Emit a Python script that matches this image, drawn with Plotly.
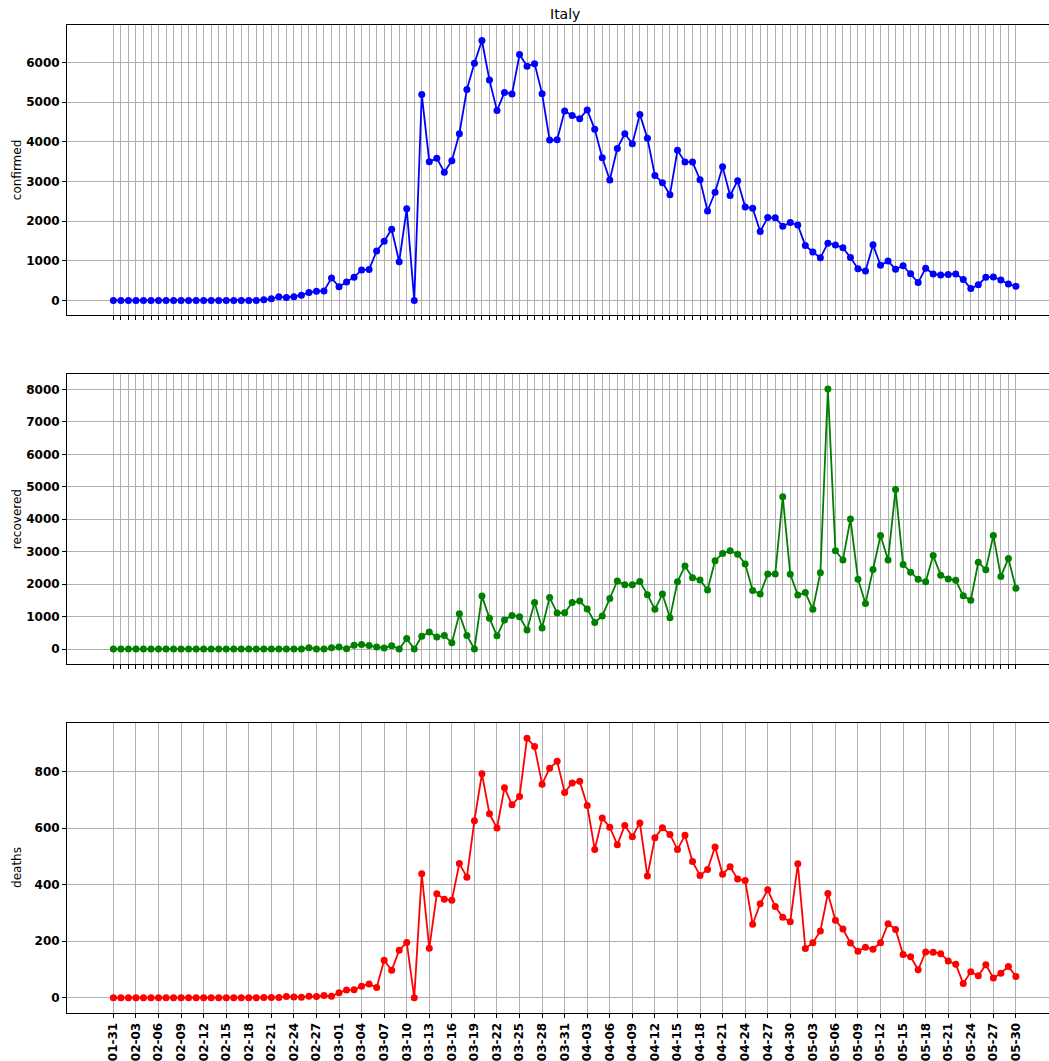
import pandas as pd
import plotly.graph_objects as go
from plotly.subplots import make_subplots

country = "Italy"
dates = pd.date_range("2020-01-31", "2020-05-30", freq="D")
tick_dates = dates[::3]
tick_labels = [d.strftime("%m-%d") for d in tick_dates]

confirmed = [0, 0, 0, 0, 0, 0, 1, 0, 0, 0, 0, 0, 0, 0, 0, 0, 0, 0, 0, 0,
             17, 42, 93, 74, 93, 131, 202, 233, 240, 566,
             342, 466, 587, 769, 778, 1247, 1492, 1797, 977, 2313, 0, 5198, 3497, 3590, 3233, 3526,
             4207, 5322, 5986, 6557, 5560, 4789, 5249, 5210, 6203, 5909, 5974, 5217, 4050, 4053, 4782,
             4668, 4585, 4805, 4316, 3599, 3039, 3836, 4204, 3951, 4694, 4092, 3153, 2972, 2667, 3786,
             3493, 3491, 3047, 2256, 2729, 3370, 2646, 3021, 2357, 2324, 1739, 2091, 2086, 1872, 1965,
             1900, 1389, 1221, 1075, 1444, 1401, 1327, 1083, 802, 744, 1402, 888, 992, 789, 875,
             675, 451, 813, 665, 642, 652, 669, 531, 300, 397, 584, 593, 516, 416, 355]

recovered = [0] * 24 + [1, 2, 42, 1, 0, 37,
             66, 11, 116, 138, 109, 66, 33, 102, 0, 321, 0, 394, 527, 369, 414, 192,
             1084, 415, 0, 1632, 952, 408, 894, 1036, 999, 589, 1434, 646, 1590, 1109, 1118,
             1431, 1480, 1238, 819, 1022, 1555, 2099, 1979, 1985, 2079, 1677, 1224, 1695, 962, 2072,
             2563, 2200, 2128, 1822, 2723, 2943, 3033, 2922, 2622, 1808, 1696, 2317, 2311, 4693, 2304,
             1665, 1740, 1225, 2352, 8014, 3031, 2747, 4008, 2155, 1401, 2452, 3502, 2747, 4917, 2605,
             2366, 2150, 2075, 2881, 2278, 2160, 2120, 1639, 1502, 2677, 2443, 3503, 2240, 2789, 1874]

deaths = [0] * 20 + [1, 1, 1, 4, 3, 2, 5, 4, 8, 5,
          18, 27, 28, 41, 49, 36, 133, 97, 168, 196, 0, 439, 175, 368, 349, 345,
          475, 427, 627, 793, 651, 601, 743, 683, 712, 919, 889, 756, 812, 837, 727,
          760, 766, 681, 525, 636, 604, 542, 610, 570, 619, 431, 566, 602, 578, 525,
          575, 482, 433, 454, 534, 437, 464, 420, 415, 260, 333, 382, 323, 285, 269,
          474, 174, 195, 236, 369, 274, 243, 194, 165, 179, 172, 195, 262, 242, 153,
          145, 99, 162, 161, 156, 130, 119, 50, 92, 78, 117, 70, 87, 111, 75]

series_names = ["confirmed", "recovered", "deaths"]
series_colors = ["#0000ff", "#008000", "#ff0000"]
series_values = [confirmed, recovered, deaths]
y_ranges = [[-378, 6949], [-474, 8480], [-54, 973]]
y_dticks = [1000, 1000, 200]

W, H = 1049, 1061
L, R, T, B = 67, 0, 25, 46
plot_h = H - T - B
def dom(top_px, bot_px):
    return [(H - B - bot_px) / plot_h, (H - B - top_px) / plot_h]
domains = [dom(25, 316), dom(374.7, 665.7), dom(724.3, 1015)]

day = pd.Timedelta(days=1)
x0 = dates[0] - 6.17 * day
x1 = dates[0] + 124.4 * day

fig = make_subplots(rows=3, cols=1, shared_xaxes=False, vertical_spacing=0.05)
tick_font = dict(family="DejaVu Sans", size=12, color="black", weight="bold")

for i, (name, col, vals) in enumerate(zip(series_names, series_colors, series_values)):
    fig.add_trace(go.Scatter(x=dates, y=vals, mode="lines+markers", name=name,
                             line=dict(color=col, width=1.8),
                             marker=dict(color=col, size=7),
                             showlegend=False), row=i + 1, col=1)
    last = (i == 2)
    if last:
        tv, tt = list(tick_dates), tick_labels
    else:
        tv, tt = list(dates), [""] * len(dates)
    fig.update_xaxes(row=i + 1, col=1, type="date", range=[x0, x1],
                     tickmode="array", tickvals=tv, ticktext=tt,
                     showticklabels=last, tickangle=-90,
                     tickfont=tick_font, ticks="outside", ticklen=4, tickcolor="black",
                     showgrid=True, gridcolor="#b0b0b0", gridwidth=0.8,
                     showline=True, linecolor="black", linewidth=1, mirror=True,
                     zeroline=False)
    fig.update_yaxes(row=i + 1, col=1, range=y_ranges[i], dtick=y_dticks[i], tick0=0,
                     tickfont=tick_font, ticks="outside", ticklen=4, tickcolor="black",
                     showgrid=True, gridcolor="#b0b0b0", gridwidth=0.8,
                     showline=True, linecolor="black", linewidth=1,
                     zeroline=False, domain=domains[i])
    fig.add_annotation(text=name, xref="paper", yref="paper", x=(17 - L) / (W - L - R),
                       y=(domains[i][0] + domains[i][1]) / 2, textangle=-90, showarrow=False,
                       xanchor="center", yanchor="middle",
                       font=dict(family="DejaVu Sans", size=12, color="black"))

fig.add_annotation(text=country, xref="paper", yref="paper", x=(565 - L) / (W - L - R), y=1,
                   xanchor="center", yanchor="bottom", yshift=1, showarrow=False,
                   font=dict(family="DejaVu Sans", size=14, color="black"))

fig.update_layout(width=W, height=H, margin=dict(l=L, r=R, t=T, b=B),
                  plot_bgcolor="white", paper_bgcolor="white",
                  font=dict(family="DejaVu Sans", color="black"))

fig.write_html("out.html", config={"displayModeBar": False},
               post_script="document.body.style.margin='0';document.body.style.overflow='hidden';")
